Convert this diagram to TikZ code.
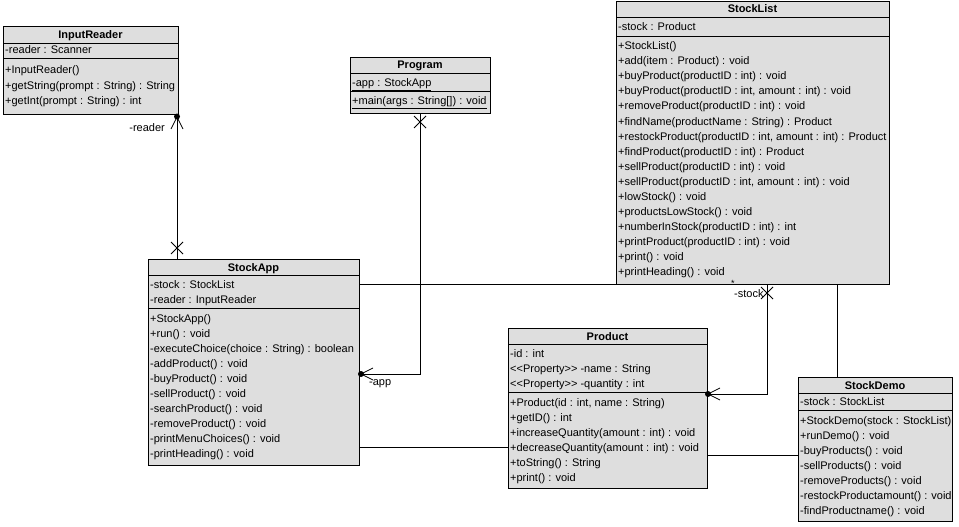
\documentclass[tikz,border=0pt]{standalone}
\usepackage{fontspec}
\setmainfont{Liberation Sans}
\usetikzlibrary{calc}
\definecolor{boxgray}{RGB}{222,222,222}
\tikzset{
  cls/.style={draw, fill=boxgray, line width=0.8pt, anchor=north west, inner sep=0pt, outer sep=0pt},
  sepline/.style={line width=0.8pt},
  row/.style={anchor=base west, inner sep=0pt, font=\fontsize{11}{13}\selectfont},
  ttl/.style={anchor=base, inner sep=0pt, font=\fontsize{11}{13}\selectfont\bfseries},
  lbl/.style={inner sep=0pt, font=\fontsize{11}{13}\selectfont},
  conn/.style={line width=0.8pt},
  deco/.style={line width=0.8pt}
}
\begin{document}
\begin{tikzpicture}[x=1pt,y=-1pt]
\useasboundingbox[fill=white] (0,0) rectangle (959,527);

% ---------- InputReader
\node[cls, minimum width=175pt, minimum height=88pt] (ir) at (3,26) {};
\draw[sepline] (3,43) -- (178,43);
\draw[sepline] (3,58) -- (178,58);
\node[ttl] (irt) at (90.5,39) {InputReader};
\node[row] (ir1) at (5,54) {-reader : Scanner};
\node[row] (ir2) at (5,74) {+InputReader()};
\node[row] (ir3) at (5,89) {+getString(prompt : String) : String};
\node[row] (ir4) at (5,104) {+getInt(prompt : String) : int};

% ---------- Program
\node[cls, minimum width=140pt, minimum height=56pt] (pg) at (350,57) {};
\draw[sepline] (350,73) -- (490,73);
\draw[sepline] (350,91) -- (490,91);
\node[ttl] (pgt) at (420,69) {Program};
\node[row] (pg1) at (352,87) {\underline{-app : StockApp}};
\node[row] (pg2) at (352,105) {\underline{+main(args : String[]) : void}};

% ---------- StockList
\node[cls, minimum width=273pt, minimum height=283pt] (sl) at (616,1) {};
\draw[sepline] (616,17) -- (889,17);
\draw[sepline] (616,36) -- (889,36);
\node[ttl] (slt) at (752.5,13) {StockList};
\node[row] (sl0) at (618,31) {-stock : Product};
\foreach \i/\t in {0/{+StockList()},1/{+add(item : Product) : void},2/{+buyProduct(productID : int) : void},
  3/{+buyProduct(productID : int, amount : int) : void},4/{+removeProduct(productID : int) : void},
  5/{+findName(productName : String) : Product},6/{+restockProduct(productID : int, amount : int) : Product},
  7/{+findProduct(productID : int) : Product},8/{+sellProduct(productID : int) : void},
  9/{+sellProduct(productID : int, amount : int) : void},10/{+lowStock() : void},
  11/{+productsLowStock() : void},12/{+numberInStock(productID : int) : int},
  13/{+printProduct(productID : int) : void},14/{+print() : void},15/{+printHeading() : void}}
  \node[row] (slm\i) at (618,{50+15*\i}) {\t};

% ---------- StockApp
\node[cls, minimum width=211pt, minimum height=206pt] (sa) at (148,259) {};
\draw[sepline] (148,275) -- (359,275);
\draw[sepline] (148,308) -- (359,308);
\node[ttl] (sat) at (253.5,271) {StockApp};
\node[row] (sa1) at (150,288) {-stock : StockList};
\node[row] (sa2) at (150,303) {-reader : InputReader};
\foreach \i/\t in {0/{+StockApp()},1/{+run() : void},2/{-executeChoice(choice : String) : boolean},
  3/{-addProduct() : void},4/{-buyProduct() : void},5/{-sellProduct() : void},
  6/{-searchProduct() : void},7/{-removeProduct() : void},8/{-printMenuChoices() : void},
  9/{-printHeading() : void}}
  \node[row] (sam\i) at (150,{322+15*\i}) {\t};

% ---------- Product
\node[cls, minimum width=199pt, minimum height=160pt] (pr) at (508,328) {};
\draw[sepline] (508,344) -- (707,344);
\draw[sepline] (508,392) -- (707,392);
\node[ttl] (prt) at (607.5,340) {Product};
\node[row] (pr1) at (510,357) {-id : int};
\node[row] (pr2) at (510,372) {{<}{<}Property{>}{>} -name : String};
\node[row] (pr3) at (510,387) {{<}{<}Property{>}{>} -quantity : int};
\foreach \i/\t in {0/{+Product(id : int, name : String)},1/{+getID() : int},
  2/{+increaseQuantity(amount : int) : void},3/{+decreaseQuantity(amount : int) : void},
  4/{+toString() : String},5/{+print() : void}}
  \node[row] (prm\i) at (510,{406+15*\i}) {\t};

% ---------- StockDemo
\node[cls, minimum width=154pt, minimum height=144pt] (sd) at (798,377) {};
\draw[sepline] (798,393) -- (952,393);
\draw[sepline] (798,410) -- (952,410);
\node[ttl] (sdt) at (875,389) {StockDemo};
\node[row] (sd1) at (800,405) {-stock : StockList};
\foreach \i/\t in {0/{+StockDemo(stock : StockList)},1/{+runDemo() : void},2/{-buyProducts() : void},
  3/{-sellProducts() : void},4/{-removeProducts() : void},5/{-restockProductamount() : void},
  6/{-findProductname() : void}}
  \node[row] (sdm\i) at (800,{424+15*\i}) {\t};

% ---------- connectors
% StockApp -> InputReader
\draw[conn] ($(ir.south east)+(-1,0)$) -- ($(sa.north west)+(29,0)$);
\fill (177,116.5) circle (3pt);
\draw[deco] (171,129) -- (177,117) -- (183,129);
\draw[deco] (171,242) -- (183,254) (171,254) -- (183,242);
\node[lbl, anchor=base east] (lreader) at (165,131) {-reader};

% Program -> StockApp
\draw[conn] (pg.south) |- ($(sa.north east)+(0,115)$);
\draw[deco] (414,116) -- (426,128) (414,128) -- (426,116);
\fill (361,374) circle (3pt);
\draw[deco] (373,368) -- (361,374) -- (373,380);
\node[lbl, anchor=base west] (lapp) at (369,385) {-app};

% StockApp -- StockList
\draw[conn] ($(sa.north east)+(0,25)$) -- (sl.south west);

% Product -> StockList
\draw[conn] ($(pr.north east)+(0,66)$) -| ($(sl.south west)+(151,0)$);
\fill (708,394) circle (3pt);
\draw[deco] (720,388) -- (708,394) -- (720,400);
\draw[deco] (761,287) -- (773,299) (761,299) -- (773,287);
\node[lbl, anchor=base west] (lstock) at (734,297) {-stock};
\node[lbl, anchor=base west, font=\fontsize{9}{10}\selectfont] (lmult) at (731,286) {*};

% StockDemo -- StockList
\draw[conn] ($(sl.south west)+(221,0)$) -- ($(sd.north west)+(39,0)$);

% StockApp -- Product
\draw[conn] ($(sa.north east)+(0,188)$) -- ($(pr.north west)+(0,119)$);

% Product -- StockDemo
\draw[conn] ($(pr.north east)+(0,127)$) -- ($(sd.north west)+(0,78)$);
\end{tikzpicture}
\end{document}
